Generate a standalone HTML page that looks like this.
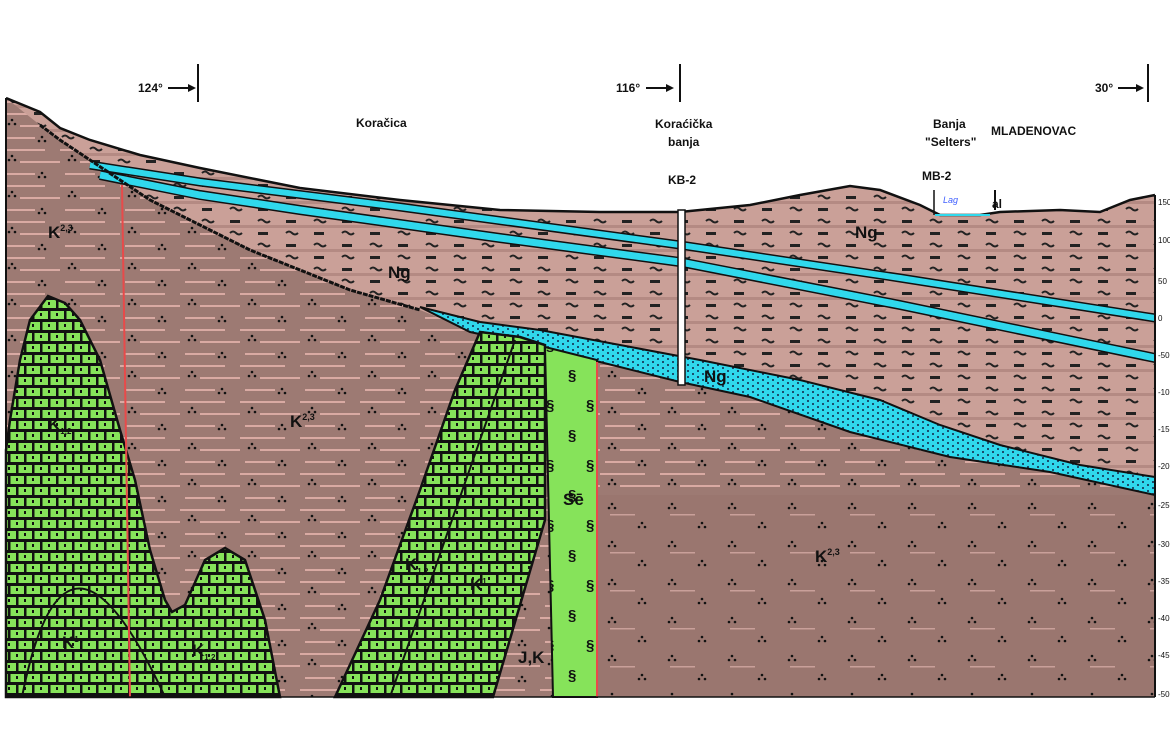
<!DOCTYPE html>
<html><head><meta charset="utf-8"><style>
html,body{margin:0;padding:0;background:#fff;}
svg{display:block;}
text{font-family:"Liberation Sans",Arial,sans-serif;}
</style></head><body>
<svg width="1170" height="738" viewBox="0 0 1170 738" xmlns="http://www.w3.org/2000/svg">
<defs>
<pattern id="kp" width="60" height="36" patternUnits="userSpaceOnUse">
<rect width="60" height="36" fill="#9d7a73"/>
<rect x="0" y="5" width="45" height="2" fill="#d9aaa3"/>
<rect x="20" y="17" width="40" height="2" fill="#d9aaa3"/>
<rect x="5" y="29" width="30" height="2" fill="#d9aaa3"/>
<circle cx="12" cy="12" r="1.3" fill="#111"/><circle cx="9" cy="16" r="1.3" fill="#111"/><circle cx="15" cy="16" r="1.3" fill="#111"/>
<circle cx="42" cy="29" r="1.3" fill="#111"/><circle cx="39" cy="33" r="1.3" fill="#111"/><circle cx="45" cy="33" r="1.3" fill="#111"/>
</pattern>
<pattern id="kd" width="60" height="38" patternUnits="userSpaceOnUse">
<rect width="60" height="38" fill="#9a766f"/>
<rect x="10" y="20" width="25" height="1.5" fill="#c9a09a"/>
<circle cx="12" cy="10" r="1.3" fill="#111"/><circle cx="9" cy="14" r="1.3" fill="#111"/><circle cx="15" cy="14" r="1.3" fill="#111"/>
<circle cx="42" cy="29" r="1.3" fill="#111"/><circle cx="39" cy="33" r="1.3" fill="#111"/><circle cx="45" cy="33" r="1.3" fill="#111"/>
</pattern>
<pattern id="ng" width="56" height="24" patternUnits="userSpaceOnUse">
<rect width="56" height="24" fill="#caa098"/>
<rect x="0" y="9" width="56" height="3" fill="#b48a83"/>
<rect x="6" y="4" width="10" height="3" fill="#222"/>
<path d="M34 5 q3 -3 6 0 q3 3 6 0" stroke="#222" stroke-width="2" fill="none"/>
<rect x="34" y="16" width="10" height="3" fill="#222"/>
<path d="M6 17 q3 -3 6 0 q3 3 6 0" stroke="#222" stroke-width="2" fill="none"/>
</pattern>
<pattern id="gb" width="32" height="22" patternUnits="userSpaceOnUse">
<rect width="32" height="22" fill="#86e35a"/>
<rect x="0" y="0" width="32" height="3" fill="#111"/>
<rect x="0" y="11" width="32" height="3" fill="#111"/>
<rect x="0" y="0" width="2.5" height="11" fill="#111"/>
<rect x="16" y="0" width="2.5" height="11" fill="#111"/>
<rect x="8" y="11" width="2.5" height="11" fill="#111"/>
<rect x="24" y="11" width="2.5" height="11" fill="#111"/>
<rect x="8" y="5" width="2" height="3" fill="#111"/><rect x="24" y="5" width="2" height="3" fill="#111"/>
<rect x="0" y="16" width="2" height="3" fill="#111"/><rect x="16" y="16" width="2" height="3" fill="#111"/>
</pattern>
<pattern id="cy" width="10" height="6" patternUnits="userSpaceOnUse">
<rect width="10" height="6" fill="#30d8ec"/>
<circle cx="3" cy="2" r="1" fill="#124"/><circle cx="8" cy="5" r="1" fill="#124"/>
</pattern>
<pattern id="se" width="40" height="60" patternUnits="userSpaceOnUse">
<rect width="40" height="60" fill="#86e35a"/>
<text x="8" y="20" font-size="15" font-weight="bold" fill="#111">§</text>
<text x="26" y="50" font-size="15" font-weight="bold" fill="#111">§</text>
</pattern>
</defs>

<polygon points="6,98 40,115 60,130 1155,490 1155,697 6,697" fill="url(#kp)"/>
<polygon points="595,495 1155,495 1155,697 595,697" fill="url(#kd)"/>
<polygon points="6,98 40,112 60,128 90,140 140,155 200,168 300,188 400,200 500,210 600,212 680,212 750,205 800,195 850,186 880,190 920,205 940,215 980,215 1000,212 1060,210 1100,212 1130,200 1155,195 1155,490 1050,470 950,455 850,430 750,395 680,380 600,360 540,345 470,330 420,310 350,290 250,250 150,200 60,140 40,125" fill="url(#ng)"/>
<polygon points="420,307 480,322 540,330 620,345 700,360 800,380 880,400 940,425 1000,445 1080,465 1155,477 1155,495 1050,472 950,457 850,432 750,397 680,382 600,362 540,347 470,332" fill="url(#cy)" stroke="#111" stroke-width="2"/>
<polyline points="90,165 200,182 400,207 680,245 900,278 1155,318" fill="none" stroke="#111" stroke-width="9"/>
<polyline points="90,165 200,182 400,207 680,245 900,278 1155,318" fill="none" stroke="#30d8ec" stroke-width="6"/>
<polyline points="100,175 200,195 300,210 500,238 680,262 900,305 1155,358" fill="none" stroke="#111" stroke-width="10"/>
<polyline points="100,175 200,195 300,210 500,238 680,262 900,305 1155,358" fill="none" stroke="#30d8ec" stroke-width="7"/>
<polyline points="40,125 60,140 150,200 250,250 350,290 420,310" fill="none" stroke="#111" stroke-width="3" stroke-dasharray="5 1"/>
<polyline points="6,98 40,112 60,128 90,140 140,155 200,168 300,188 400,200 500,210 600,212 680,212 750,205 800,195 850,186 880,190 920,205 940,215 980,215 1000,212 1060,210 1100,212 1130,200 1155,195" fill="none" stroke="#111" stroke-width="2.5"/>
<line x1="935" y1="215" x2="990" y2="215" stroke="#30d8ec" stroke-width="2"/>
<polygon points="6,450 10,420 20,360 30,320 48,296 65,303 80,320 100,360 120,430 135,480 150,550 165,600 172,612 185,605 205,560 225,548 245,560 265,620 280,697 6,697" fill="url(#gb)" stroke="#111" stroke-width="2.5"/>
<path d="M22,697 Q65,480 165,697" fill="none" stroke="#111" stroke-width="2"/>
<polygon points="335,697 380,600 420,490 455,390 480,332 520,337 545,345 545,520 493,697" fill="url(#gb)" stroke="#111" stroke-width="2.5"/>
<line x1="515" y1="340" x2="390" y2="697" stroke="#111" stroke-width="2"/>
<polygon points="545,347 597,360 597,697 553,697" fill="url(#se)" stroke="#111" stroke-width="2"/>
<line x1="122" y1="185" x2="130" y2="697" stroke="#e84a4a" stroke-width="2"/>
<line x1="597" y1="362" x2="597" y2="697" stroke="#e84a4a" stroke-width="2"/>
<rect x="678" y="210" width="7" height="175" fill="#fff" stroke="#111" stroke-width="1.5"/>
<line x1="934" y1="190" x2="934" y2="215" stroke="#111" stroke-width="1.5"/>
<line x1="995" y1="190" x2="995" y2="210" stroke="#111" stroke-width="2"/>
<line x1="6" y1="98" x2="6" y2="697" stroke="#111" stroke-width="2"/>
<line x1="1155" y1="195" x2="1155" y2="697" stroke="#111" stroke-width="2"/>
<line x1="6" y1="697" x2="1155" y2="697" stroke="#111" stroke-width="1.5"/>
<g font-size="8" fill="#111">
<text x="1158" y="205">150</text><text x="1158" y="243">100</text><text x="1158" y="284">50</text><text x="1158" y="321">0</text><text x="1158" y="358">-50</text><text x="1158" y="395">-100</text><text x="1158" y="432">-150</text><text x="1158" y="469">-200</text><text x="1158" y="508">-250</text><text x="1158" y="547">-300</text><text x="1158" y="584">-350</text><text x="1158" y="621">-400</text><text x="1158" y="658">-450</text><text x="1158" y="697">-500</text>
</g>
<g font-size="12" fill="#111" font-weight="bold">
<text x="138" y="92">124°</text><line x1="168" y1="88" x2="190" y2="88" stroke="#111" stroke-width="2"/><polygon points="188,84 196,88 188,92" fill="#111"/><line x1="198" y1="64" x2="198" y2="102" stroke="#111" stroke-width="2"/>
<text x="616" y="92">116°</text><line x1="646" y1="88" x2="668" y2="88" stroke="#111" stroke-width="2"/><polygon points="666,84 674,88 666,92" fill="#111"/><line x1="680" y1="64" x2="680" y2="102" stroke="#111" stroke-width="2"/>
<text x="1095" y="92">30°</text><line x1="1118" y1="88" x2="1138" y2="88" stroke="#111" stroke-width="2"/><polygon points="1136,84 1144,88 1136,92" fill="#111"/><line x1="1148" y1="64" x2="1148" y2="102" stroke="#111" stroke-width="2"/>
<text x="356" y="127">Koračica</text>
<text x="655" y="128">Koraćička</text><text x="668" y="146">banja</text>
<text x="668" y="184">KB-2</text>
<text x="933" y="128">Banja</text><text x="925" y="146">"Selters"</text>
<text x="991" y="135">MLADENOVAC</text>
<text x="922" y="180">MB-2</text>
<text x="943" y="203" font-size="9" fill="#4060ff" font-style="italic" font-weight="normal">Lag</text>
<text x="992" y="208">al</text>
</g>
<g font-size="17" font-weight="bold" fill="#111">
<text x="48" y="238">K<tspan font-size="9" dy="-7">2,3</tspan></text>
<text x="290" y="427">K<tspan font-size="9" dy="-7">2,3</tspan></text>
<text x="815" y="562">K<tspan font-size="9" dy="-7">2,3</tspan></text>
<text x="388" y="278">Ng</text>
<text x="855" y="238">Ng</text>
<text x="704" y="382">Ng</text>
<text x="48" y="430">K<tspan font-size="8" dy="4">1,2</tspan></text>
<text x="62" y="648">K<tspan font-size="8" dy="-6">1</tspan></text>
<text x="192" y="656">K<tspan font-size="8" dy="4">1,2</tspan></text>
<text x="405" y="570">K<tspan font-size="8" dy="4">1,2</tspan></text>
<text x="470" y="590">K<tspan font-size="8" dy="-6">1</tspan></text>
<text x="563" y="505">Sē</text>
<text x="518" y="663">J,K</text>
</g>
</svg>
</body></html>
